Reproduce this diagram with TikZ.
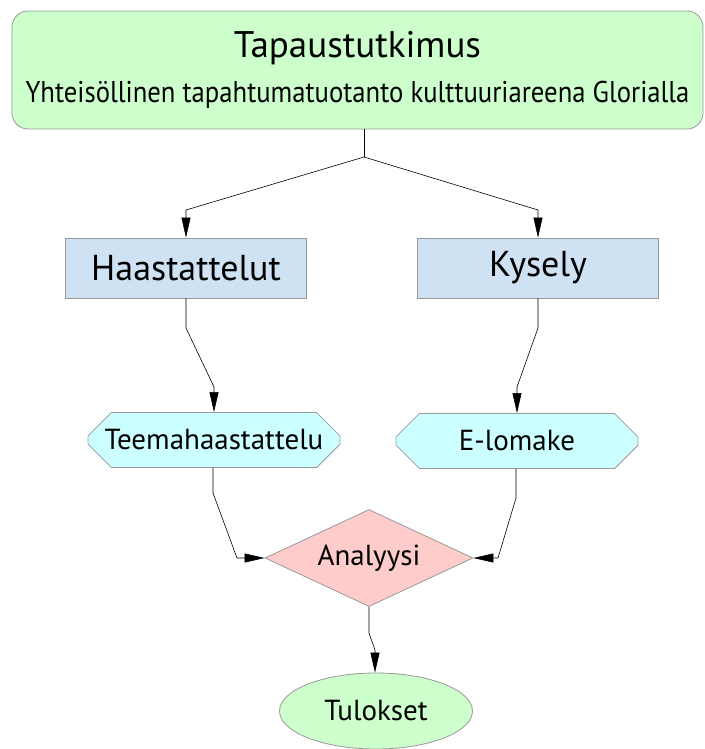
\documentclass[tikz,border=0pt]{standalone}
\usepackage{fontspec}
\setmainfont{PT Sans}
\newfontfamily\subtitlefont[FakeStretch=0.89]{PT Sans}
\usetikzlibrary{shapes.geometric,shapes.misc,arrows.meta}
\definecolor{topgreen}{HTML}{CCFFCC}
\definecolor{boxblue}{HTML}{CFE2F3}
\definecolor{octcyan}{HTML}{CCFFFF}
\definecolor{diapink}{HTML}{FFCCCC}
\definecolor{edgegray}{HTML}{999999}

\begin{document}
\begin{tikzpicture}[x=1pt, y=-1pt]
        \tikzstyle{base}=[draw=edgegray, line width=0.8pt, inner sep=0pt, text=black]
        \tikzstyle{casebox}=[base, rectangle, rounded corners=16pt, fill=topgreen, minimum width=691pt, minimum height=118pt, align=center, font=\fontsize{37}{45}\selectfont]
        \tikzstyle{methodbox}=[base, rectangle, fill=boxblue, minimum width=241pt, minimum height=60pt, font=\fontsize{36}{42}\selectfont]
        \tikzstyle{toolbox}=[base, chamfered rectangle, chamfered rectangle xsep=13pt, chamfered rectangle ysep=13pt, fill=octcyan, minimum height=55pt, font=\fontsize{29}{34}\selectfont]
        \tikzstyle{analysis}=[base, diamond, aspect=2.14, fill=diapink, minimum width=208pt, minimum height=97pt, font=\fontsize{29}{34}\selectfont]
        \tikzstyle{result}=[base, ellipse, fill=topgreen, minimum width=193pt, minimum height=76pt, font=\fontsize{29}{34}\selectfont]
        \tikzstyle{arr}=[draw=black, line width=0.6pt, -{Triangle[length=20pt,width=9pt]}]

        \useasboundingbox (0,0) rectangle (704,749);

        \node[casebox] (T_1) at (357.5,70) {Tapaustutkimus\\{\subtitlefont\fontsize{30}{45}\selectfont Yhteisöllinen tapahtumatuotanto kulttuuriareena Glorialla}};
        \node[methodbox] (M_1) at (186,268) {Haastattelut};
        \node[methodbox] (M_2) at (538,268) {Kysely};
        \node[toolbox, minimum width=252pt] (K_1) at (214,440) {Teemahaastattelu};
        \node[toolbox, minimum width=242pt] (K_2) at (517,441) {E-lomake};
        \node[analysis] (A) at (369,558) {Analyysi};
        \node[result] (R) at (376,711) {Tulokset};

        \coordinate (S) at (364,157);
        \draw[line width=0.6pt] ([xshift=6.5pt]T_1.south) -- (S);
        \draw[arr] (S) -- (186,210) -- (M_1.north);
        \draw[arr] (S) -- (538,210) -- (M_2.north);
        \draw[arr] (M_1.south) -- (186,328) -- (214,387) -- (K_1.north);
        \draw[arr] (M_2.south) -- (538,328) -- (517,387) -- (K_2.north);
        \draw[arr] ([xshift=-1pt]K_1.south) -- (213,493) -- (237,558) -- (A.west);
        \draw[arr] ([xshift=-1pt]K_2.south) -- (516,498) -- (498,558) -- (A.east);
        \draw[arr] (A.south) -- (369,633) -- (375,650) -- ([xshift=-1pt]R.north);
    \end{tikzpicture}
\end{document}
